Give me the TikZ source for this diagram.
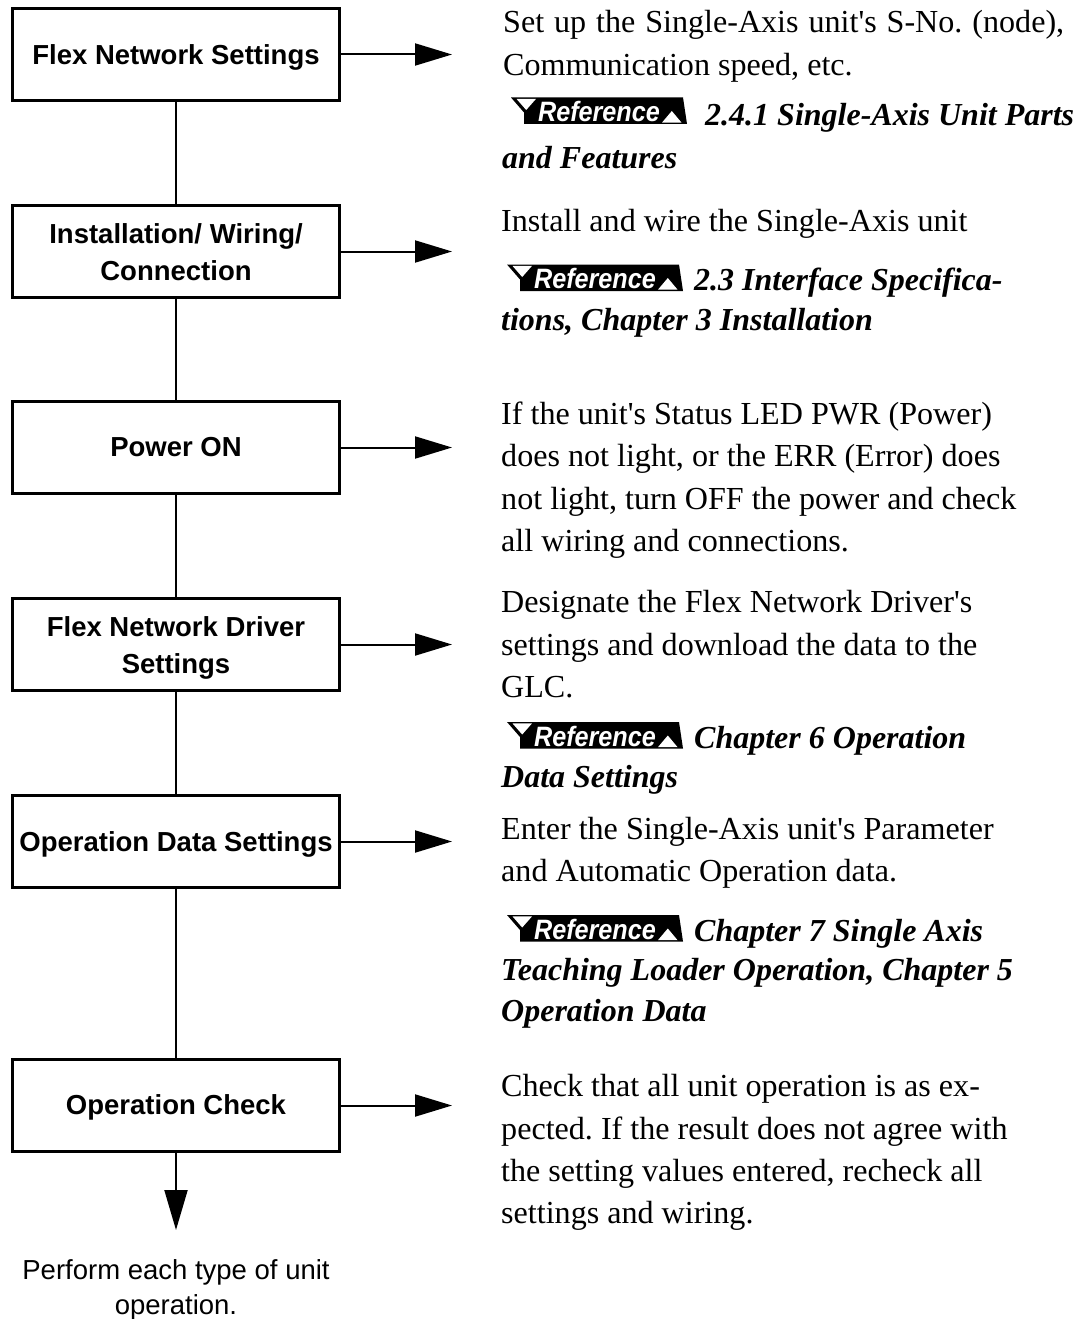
\documentclass[tikz,border=0pt]{standalone}
\usepackage{fontspec}
\setmainfont{Liberation Serif}
\setsansfont{Liberation Sans}
\usetikzlibrary{arrows.meta}
\frenchspacing
\tikzset{
  stepbox/.style={draw, line width=2.6pt, minimum width=327.4pt, minimum height=92.4pt, inner sep=0pt},
  boxtext/.style={anchor=base, inner sep=0pt, font=\sffamily\bfseries\fontsize{27.5}{37}\selectfont},
  conn/.style={line width=2pt},
  harrow/.style={line width=2pt, -{Triangle[length=37pt,width=22pt]}},
  varrow/.style={line width=2pt, -{Triangle[length=40pt,width=23pt]}},
  desc/.style={anchor=base west, inner sep=0pt, font=\rmfamily\fontsize{32.1}{42.5}\selectfont},
  refx/.style={anchor=base west, inner sep=0pt, font=\rmfamily\bfseries\itshape\fontsize{32}{40}\selectfont},
  badgetext/.style={text=white, inner sep=0pt, font=\sffamily\bfseries\itshape\fontsize{28}{28}\selectfont},
  note/.style={align=center, inner sep=0pt, font=\sffamily\fontsize{27.5}{35}\selectfont},
  badge/.pic={
    \fill[black] (-1,0) -- (171,0) -- (175,26.5) -- (12,26.5) -- (12,15) -- cycle;
    \fill[white] (4.5,1.4) -- (24,1.4) -- (14.2,12.5) -- cycle;
    \fill[white] (150,25.1) -- (169.5,25.1) -- (159.8,13.5) -- cycle;
    \node[badgetext] (-t) at (87,14) {\scalebox{0.9}[1]{Reference}};
  }
}
\begin{document}
\begin{tikzpicture}[x=1pt,y=-1pt]
\fill[white] (0,0) rectangle (1084,1319);
\useasboundingbox (0,0) rectangle (1084,1319);

% boxes
\node[stepbox] (b1) at (176,54.5) {};
\node[stepbox] (b2) at (176,251.5) {};
\node[stepbox] (b3) at (176,447.5) {};
\node[stepbox] (b4) at (176,644.5) {};
\node[stepbox] (b5) at (176,841.5) {};
\node[stepbox] (b6) at (176,1105.5) {};

\node[boxtext] (t1) at (176,64.5) {Flex Network Settings};
\node[boxtext] (t2a) at (176,243.5) {Installation/ Wiring/};
\node[boxtext] (t2b) at (176,280.5) {Connection};
\node[boxtext] (t3) at (176,456.5) {Power ON};
\node[boxtext] (t4a) at (176,636.5) {Flex Network Driver};
\node[boxtext] (t4b) at (176,673.5) {Settings};
\node[boxtext] (t5) at (176,851.5) {Operation Data Settings};
\node[boxtext] (t6) at (176,1114.5) {Operation Check};

\draw[conn] (b1.south) -- (b2.north);
\draw[conn] (b2.south) -- (b3.north);
\draw[conn] (b3.south) -- (b4.north);
\draw[conn] (b4.south) -- (b5.north);
\draw[conn] (b5.south) -- (b6.north);

\coordinate (e1) at (452,54.5);
\coordinate (e2) at (452,251.5);
\coordinate (e3) at (452,447.5);
\coordinate (e4) at (452,644.5);
\coordinate (e5) at (452,841.5);
\coordinate (e6) at (452,1105.5);
\coordinate (e7) at (176,1230);
\draw[harrow] (b1.east) -- (e1);
\draw[harrow] (b2.east) -- (e2);
\draw[harrow] (b3.east) -- (e3);
\draw[harrow] (b4.east) -- (e4);
\draw[harrow] (b5.east) -- (e5);
\draw[harrow] (b6.east) -- (e6);
\draw[varrow] (b6.south) -- (e7);

\node[note] (n1) at (176,1290) {Perform each type of unit\\operation.};

% block 1
\node[desc] (d1a) at (503,33) {\makebox[561pt][s]{Set up the Single-Axis unit\textquotesingle s S-No. (node),}};
\node[desc] (d1b) at (503,76) {Communication speed, etc.};
\pic (r1) at (512,97.5) {badge};
\node[refx] (x1a) at (705,125) {2.4.1 Single-Axis Unit Parts};
\node[refx] (x1b) at (502,168) {and Features};

% block 2
\node[desc] (d2a) at (501,231) {Install and wire the Single-Axis unit};
\pic (r2) at (508,264.5) {badge};
\node[refx] (x2a) at (694,290) {2.3 Interface Specifica-};
\node[refx] (x2b) at (501,330) {tions, Chapter 3 Installation};

% block 3
\node[desc] (d3a) at (501,424) {If the unit\textquotesingle s Status LED PWR (Power)};
\node[desc] (d3b) at (501,466) {does not light, or the ERR (Error) does};
\node[desc] (d3c) at (501,509) {not light, turn OFF the power and check};
\node[desc] (d3d) at (501,551) {all wiring and connections.};

% block 4
\node[desc] (d4a) at (501,612) {Designate the Flex Network Driver\textquotesingle s};
\node[desc] (d4b) at (501,655) {settings and download the data to the};
\node[desc] (d4c) at (501,697) {GLC.};
\pic (r4) at (508,722) {badge};
\node[refx] (x4a) at (694,748) {Chapter 6 Operation};
\node[refx] (x4b) at (501,787) {Data Settings};

% block 5
\node[desc] (d5a) at (501,839) {Enter the Single-Axis unit\textquotesingle s Parameter};
\node[desc] (d5b) at (501,881) {and Automatic Operation data.};
\pic (r5) at (508,915) {badge};
\node[refx] (x5a) at (694,941) {Chapter 7 Single Axis};
\node[refx] (x5b) at (501,980) {Teaching Loader Operation, Chapter 5};
\node[refx] (x5c) at (501,1021) {Operation Data};

% block 6
\node[desc] (d6a) at (501,1096) {Check that all unit operation is as ex-};
\node[desc] (d6b) at (501,1139) {pected. If the result does not agree with};
\node[desc] (d6c) at (501,1181) {the setting values entered, recheck all};
\node[desc] (d6d) at (501,1223) {settings and wiring.};
\end{tikzpicture}
\end{document}
